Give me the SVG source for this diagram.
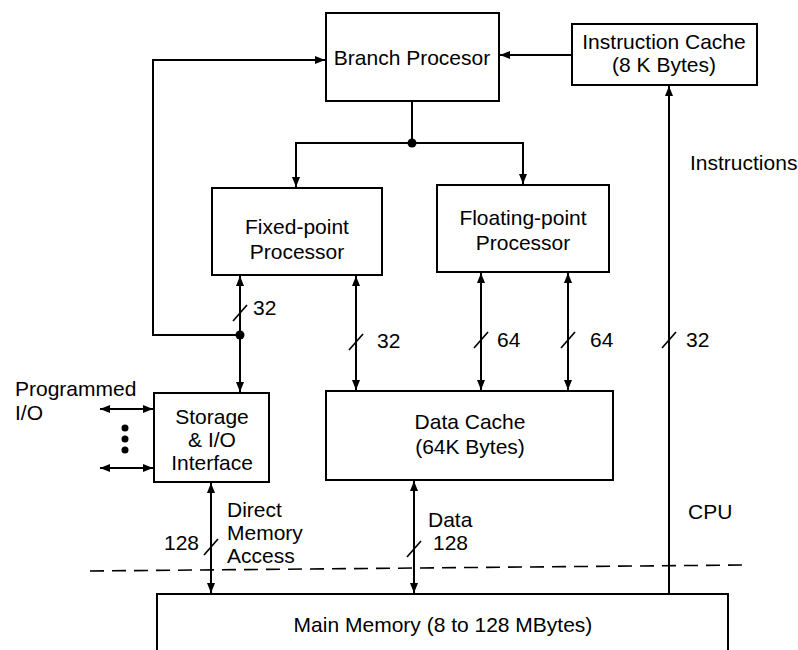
<svg xmlns="http://www.w3.org/2000/svg" width="798" height="650" viewBox="0 0 798 650">
<style>
  .box { fill: #fff; stroke: #000; stroke-width: 2; }
  .ln { fill: none; stroke: #000; stroke-width: 2; }
  .sl { fill: none; stroke: #000; stroke-width: 1.6; }
  .dash { fill: none; stroke: #000; stroke-width: 1.6; stroke-dasharray: 14 8; }
  text { font-family: "Liberation Sans", Arial, sans-serif; font-size: 21px; fill: #000; }
  .c { text-anchor: middle; }
</style>
<defs>
  <marker id="ah" viewBox="0 0 10 8" refX="10" refY="4" markerWidth="10" markerHeight="8" markerUnits="userSpaceOnUse" orient="auto-start-reverse">
    <path d="M0,0 L10,4 L0,8 Z" fill="#000"/>
  </marker>
</defs>
<rect width="798" height="650" fill="#fff"/>

<g id="connectors">
  <!-- feedback loop to branch processor -->
  <path class="ln" d="M240,335 H153 V60 H325" marker-end="url(#ah)"/>
  <!-- instruction cache to branch -->
  <path class="ln" d="M572,55 H500" marker-end="url(#ah)"/>
  <!-- branch to processors -->
  <path class="ln" d="M412,101 V143"/>
  <path class="ln" d="M412,143 H296 V187" marker-end="url(#ah)"/>
  <path class="ln" d="M412,143 H523 V184" marker-end="url(#ah)"/>
  <circle cx="412" cy="143" r="4.5" fill="#000"/>
  <!-- fixed-point left bus -->
  <path class="ln" d="M240,335 V276" marker-end="url(#ah)"/>
  <path class="ln" d="M240,335 V392" marker-end="url(#ah)"/>
  <circle cx="240" cy="335" r="4.5" fill="#000"/>
  <path class="sl" d="M233,321 L247,305"/>
  <text x="253" y="315">32</text>
  <!-- fixed-point right bus -->
  <path class="ln" d="M356,276 V390" marker-start="url(#ah)" marker-end="url(#ah)"/>
  <path class="sl" d="M349,350 L363,334"/>
  <text x="377" y="348">32</text>
  <!-- floating-point buses -->
  <path class="ln" d="M481,273 V390" marker-start="url(#ah)" marker-end="url(#ah)"/>
  <path class="sl" d="M474,348 L488,332"/>
  <text x="497" y="347">64</text>
  <path class="ln" d="M568,273 V390" marker-start="url(#ah)" marker-end="url(#ah)"/>
  <path class="sl" d="M561,348 L575,332"/>
  <text x="590" y="347">64</text>
  <!-- instructions bus -->
  <path class="ln" d="M669,594 V86" marker-end="url(#ah)"/>
  <path class="sl" d="M662,348 L676,332"/>
  <text x="686" y="347">32</text>
  <text x="690" y="170">Instructions</text>
  <!-- programmed I/O -->
  <path class="ln" d="M100,409 H153" marker-start="url(#ah)" marker-end="url(#ah)"/>
  <path class="ln" d="M100,468 H153" marker-start="url(#ah)" marker-end="url(#ah)"/>
  <circle cx="125" cy="428" r="3.5" fill="#000"/>
  <circle cx="125" cy="439" r="3.5" fill="#000"/>
  <circle cx="125" cy="450" r="3.5" fill="#000"/>
  <!-- storage to main memory -->
  <path class="ln" d="M211,483 V593" marker-start="url(#ah)" marker-end="url(#ah)"/>
  <path class="sl" d="M204,555 L218,539"/>
  <text x="199" y="550" text-anchor="end">128</text>
  <text x="227" y="517">Direct</text>
  <text x="227" y="540">Memory</text>
  <text x="227" y="563">Access</text>
  <!-- data cache to main memory -->
  <path class="ln" d="M414,481 V593" marker-start="url(#ah)" marker-end="url(#ah)"/>
  <path class="sl" d="M407,557 L421,541"/>
  <text x="428" y="527">Data</text>
  <text x="433" y="550">128</text>
  <!-- CPU boundary -->
  <path class="dash" d="M90,571 L745,565"/>
  <text x="688" y="519">CPU</text>
</g>

<g id="branch">
  <rect class="box" x="326" y="13" width="173" height="88"/>
  <text class="c" x="412" y="65">Branch Procesor</text>
</g>
<g id="icache">
  <rect class="box" x="572" y="24" width="185" height="61"/>
  <text class="c" x="664" y="49">Instruction Cache</text>
  <text class="c" x="664" y="72">(8 K Bytes)</text>
</g>
<g id="fixed">
  <rect class="box" x="212" y="188" width="170" height="87"/>
  <text class="c" x="297" y="234">Fixed-point</text>
  <text class="c" x="297" y="259">Processor</text>
</g>
<g id="float">
  <rect class="box" x="437" y="185" width="172" height="87"/>
  <text class="c" x="523" y="225">Floating-point</text>
  <text class="c" x="523" y="250">Processor</text>
</g>
<g id="storage">
  <rect class="box" x="154" y="393" width="115" height="89"/>
  <text class="c" x="212" y="424">Storage</text>
  <text class="c" x="212" y="447">&amp; I/O</text>
  <text class="c" x="212" y="470">Interface</text>
</g>
<g id="programmed">
  <text x="15" y="396">Programmed</text>
  <text x="15" y="420">I/O</text>
</g>
<g id="dcache">
  <rect class="box" x="326" y="391" width="287" height="89"/>
  <text class="c" x="470" y="429">Data Cache</text>
  <text class="c" x="470" y="454">(64K Bytes)</text>
</g>
<g id="mainmem">
  <rect class="box" x="157" y="594" width="571" height="70"/>
  <text class="c" x="443" y="632">Main Memory (8 to 128 MBytes)</text>
</g>
</svg>
